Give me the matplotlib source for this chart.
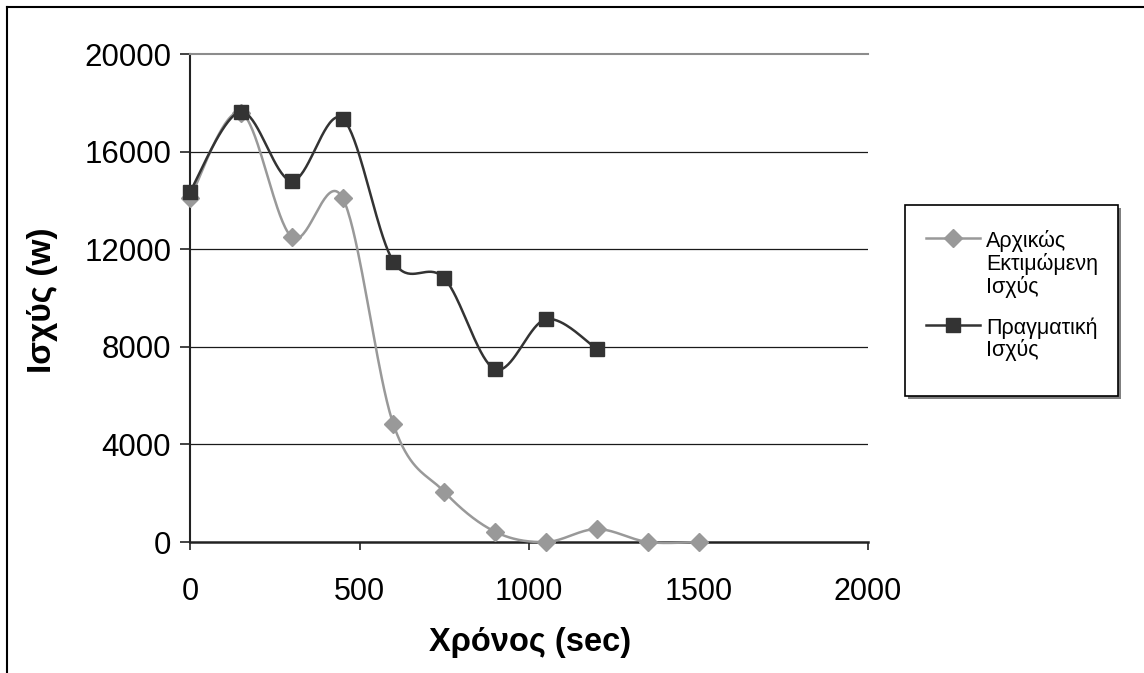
import numpy as np
import matplotlib
matplotlib.use("Agg")
import matplotlib.pyplot as plt
from matplotlib.lines import Line2D
from matplotlib.patches import Rectangle

plt.rcParams['font.family'] = ['Liberation Sans', 'DejaVu Sans']

# ---- data ----
x_est = [0, 150, 300, 450, 600, 750, 900, 1050, 1200, 1350, 1500]
y_est = [14100, 17600, 12500, 14100, 4820, 2060, 420, 0, 530, 0, 0]
x_act = [0, 150, 300, 450, 600, 750, 900, 1050, 1200]
y_act = [14360, 17630, 14800, 17350, 11490, 10810, 7080, 9130, 7910]
label_est = "Αρχικώς\nΕκτιμώμενη\nΙσχύς"
label_act = "Πραγματική\nΙσχύς"
xticks = [0, 500, 1000, 1500, 2000]
yticks = [0, 4000, 8000, 12000, 16000, 20000]
xlabel = "Χρόνος (sec)"
ylabel = "Ισχύς (w)"


def smooth(xs, ys, n=40):
    """Excel-like smoothed line: cubic Bezier with Catmull-Rom control points."""
    P = np.column_stack([xs, ys]).astype(float)
    out = [P[0]]
    t = np.linspace(0, 1, n)[1:, None]
    for i in range(len(P) - 1):
        p0 = P[i - 1] if i > 0 else P[i]
        p1 = P[i]
        p2 = P[i + 1]
        p3 = P[i + 2] if i + 2 < len(P) else P[i + 1]
        c1 = p1 + (p2 - p0) / 6.0
        c2 = p2 - (p3 - p1) / 6.0
        seg = ((1 - t) ** 3) * p1 + 3 * ((1 - t) ** 2) * t * c1 + 3 * (1 - t) * t ** 2 * c2 + t ** 3 * p2
        out.extend(seg)
    out = np.array(out)
    return out[:, 0], out[:, 1]


W, H = 1144, 673
fig = plt.figure(figsize=(W / 100, H / 100), dpi=100)
ax = fig.add_axes([190 / W, 1 - 542 / H, (868 - 190) / W, (542 - 54) / H])

c_est = '#999999'
c_act = '#333333'

sx, sy = smooth(x_est, y_est)
ax.plot(sx, sy, color=c_est, lw=1.8, zorder=3, clip_on=False)
ax.plot(x_est, y_est, ls='none', marker='D', ms=9, color=c_est, zorder=4, clip_on=False)
sx, sy = smooth(x_act, y_act)
ax.plot(sx, sy, color=c_act, lw=1.8, zorder=5, clip_on=False)
ax.plot(x_act, y_act, ls='none', marker='s', ms=10.5, color=c_act, zorder=6, clip_on=False)

ax.set_xlim(0, 2000)
ax.set_ylim(0, 20000)
ax.set_xticks(xticks)
ax.set_yticks(yticks)
ax.set_xticklabels([str(v) for v in xticks], fontsize=22)
ax.set_yticklabels([str(v) for v in yticks], fontsize=22.5)

for v in yticks[1:-1]:
    ax.axhline(v, color='#1a1a1a', lw=0.9, zorder=1)

ax.spines['right'].set_visible(False)
ax.spines['top'].set_color('#8c8c8c')
ax.spines['top'].set_linewidth(1.5)
ax.spines['left'].set_color('#222222')
ax.spines['left'].set_linewidth(1.5)
ax.spines['bottom'].set_color('#222222')
ax.spines['bottom'].set_linewidth(1.8)

ax.tick_params(axis='y', direction='out', length=7.5, width=1.2, pad=6, colors='#222222', labelcolor='black')
ax.tick_params(axis='x', direction='out', length=6, width=1.2, pad=19, colors='#222222', labelcolor='black')

fig.text(530 / W, 1 - 643 / H, xlabel, fontsize=23.5, fontweight='bold', ha='center', va='center')
fig.text(43 / W, 1 - 300 / H, ylabel, fontsize=24, fontweight='bold', ha='center', va='center', rotation=90)

# legend frame with shadow
lx0, lx1, ly0, ly1 = 905, 1118, 205, 396
fig.add_artist(Rectangle((lx0 / W + 3 / W, 1 - (ly1 + 3) / H), (lx1 - lx0) / W, (ly1 - ly0) / H,
                         transform=fig.transFigure, facecolor='#808080', edgecolor='none', zorder=8))
fig.add_artist(Rectangle((lx0 / W, 1 - ly1 / H), (lx1 - lx0) / W, (ly1 - ly0) / H,
                         transform=fig.transFigure, facecolor='white', edgecolor='black', lw=1.2, zorder=9))

handles = [
    Line2D([], [], color=c_est, lw=1.8, marker='D', ms=9),
    Line2D([], [], color=c_act, lw=1.8, marker='s', ms=10.5),
]
leg = fig.legend(handles, [label_est, label_act], loc='upper left',
                 bbox_to_anchor=(926 / W, 1 - 230 / H),
                 fontsize=15.5, frameon=False,
                 borderpad=0, labelspacing=0.9, handlelength=2.5, handletextpad=0.3,
                 borderaxespad=0)
leg.set_zorder(10)
for col in leg._legend_handle_box.get_children():
    for row in col.get_children():
        row.align = 'top'
for txt in leg.get_texts():
    txt.set_linespacing(1.05)

# outer chart frame (top and left edges visible)
fig.add_artist(Line2D([7 / W, 1], [1 - 7 / H, 1 - 7 / H], color='black', lw=1.5, transform=fig.transFigure))
fig.add_artist(Line2D([7 / W, 7 / W], [0, 1 - 7 / H], color='black', lw=1.5, transform=fig.transFigure))

fig.savefig('out.png', dpi=100)
